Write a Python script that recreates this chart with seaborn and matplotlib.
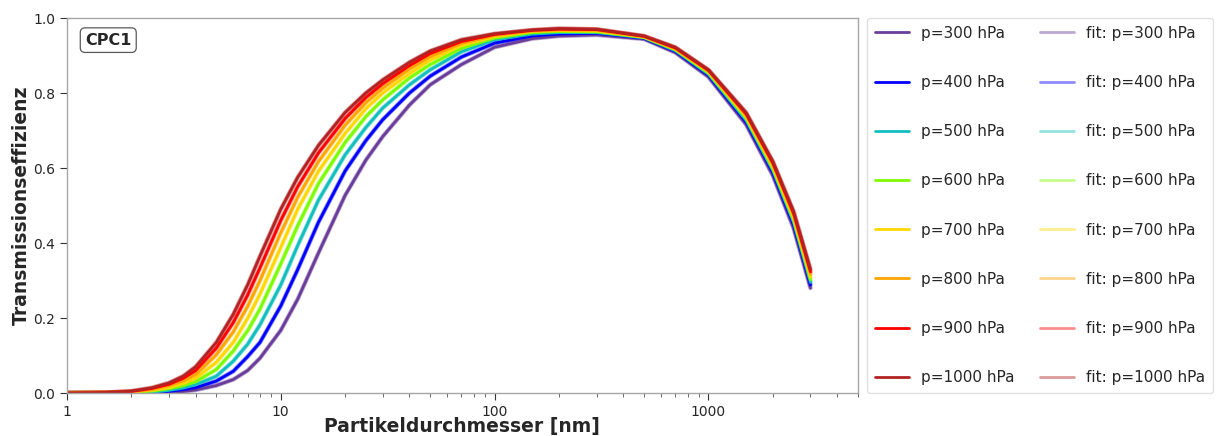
import numpy as np
import pandas as pd
import matplotlib
matplotlib.use("Agg")
import matplotlib.pyplot as plt
import seaborn as sns
from matplotlib.ticker import FuncFormatter, LogLocator

# Particle diameter grid [nm]
diameter = [1, 1.5, 2, 2.5, 3, 3.5, 4, 5, 6, 7, 8, 10, 12, 15, 20, 25, 30, 40, 50,
            70, 100, 150, 200, 300, 500, 700, 1000, 1500, 2000, 2500, 3000]

pressures = [300, 400, 500, 600, 700, 800, 900, 1000]
colors = ["#6a3d9a", "#0000ff", "#12bfbf", "#7cfc00", "#ffd700", "#ffa500", "#ff0000", "#b22222"]

eff_300 = [0.000, 0.000, 0.000, 0.001, 0.002, 0.004, 0.008, 0.020, 0.036, 0.060, 0.093, 0.167,
           0.250, 0.373, 0.527, 0.621, 0.684, 0.768, 0.822, 0.876, 0.922, 0.945, 0.952,
           0.955, 0.944, 0.908, 0.843, 0.716, 0.580, 0.440, 0.280]
eff_400 = [0.000, 0.000, 0.001, 0.001, 0.004, 0.009, 0.014, 0.032, 0.058, 0.097, 0.135, 0.232,
           0.329, 0.455, 0.592, 0.673, 0.729, 0.800, 0.845, 0.896, 0.933, 0.952, 0.957,
           0.959, 0.946, 0.911, 0.847, 0.722, 0.587, 0.448, 0.288]
eff_500 = [0.000, 0.000, 0.001, 0.002, 0.007, 0.013, 0.022, 0.045, 0.085, 0.130, 0.182, 0.288,
           0.393, 0.514, 0.635, 0.708, 0.760, 0.822, 0.862, 0.910, 0.942, 0.957, 0.961,
           0.961, 0.947, 0.913, 0.850, 0.727, 0.593, 0.455, 0.295]
eff_600 = [0.000, 0.000, 0.001, 0.005, 0.011, 0.019, 0.030, 0.063, 0.112, 0.166, 0.224, 0.344,
           0.446, 0.558, 0.668, 0.737, 0.782, 0.840, 0.876, 0.919, 0.946, 0.961, 0.964,
           0.963, 0.948, 0.915, 0.853, 0.732, 0.598, 0.461, 0.302]
eff_700 = [0.000, 0.001, 0.003, 0.007, 0.014, 0.025, 0.039, 0.082, 0.135, 0.199, 0.264, 0.388,
           0.490, 0.591, 0.692, 0.758, 0.800, 0.852, 0.888, 0.926, 0.950, 0.964, 0.966,
           0.965, 0.949, 0.917, 0.856, 0.736, 0.603, 0.467, 0.309]
eff_800 = [0.000, 0.001, 0.003, 0.009, 0.019, 0.032, 0.049, 0.102, 0.163, 0.231, 0.300, 0.427,
           0.522, 0.617, 0.714, 0.774, 0.813, 0.864, 0.897, 0.932, 0.953, 0.965, 0.968,
           0.967, 0.950, 0.918, 0.858, 0.740, 0.608, 0.473, 0.316]
eff_900 = [0.000, 0.001, 0.004, 0.012, 0.023, 0.039, 0.060, 0.120, 0.188, 0.261, 0.334, 0.460,
           0.550, 0.640, 0.732, 0.788, 0.825, 0.873, 0.905, 0.937, 0.956, 0.967, 0.970,
           0.969, 0.951, 0.920, 0.860, 0.744, 0.613, 0.479, 0.323]
eff_1000 = [0.000, 0.001, 0.005, 0.014, 0.027, 0.045, 0.070, 0.135, 0.210, 0.288, 0.365, 0.490,
            0.575, 0.660, 0.748, 0.800, 0.835, 0.882, 0.912, 0.942, 0.958, 0.968, 0.972,
            0.970, 0.952, 0.922, 0.862, 0.748, 0.618, 0.485, 0.330]

measured = [eff_300, eff_400, eff_500, eff_600, eff_700, eff_800, eff_900, eff_1000]
fitted = [eff_300, eff_400, eff_500, eff_600, eff_700, eff_800, eff_900, eff_1000]

sns.set_style("ticks")
plt.rcParams['font.family'] = ['DejaVu Sans']

fig = plt.figure(figsize=(12.16, 4.36), dpi=100)
ax = fig.add_axes([0.055, 0.0986, 0.6505, 0.8601])

# fits (drawn first, wider and translucent)
for p, c, y in zip(pressures, colors, fitted):
    sns.lineplot(x=diameter, y=y, ax=ax, color=c, lw=3.2, alpha=0.45,
                 label=f"fit: p={p} hPa", legend=False)
for p, c, y in zip(pressures, colors, measured):
    sns.lineplot(x=diameter, y=y, ax=ax, color=c, lw=2.0,
                 label=f"p={p} hPa", legend=False)

ax.set_xscale("log")
ax.set_xlim(1, 5000)
ax.set_ylim(0, 1.0)
ax.set_yticks([0.0, 0.2, 0.4, 0.6, 0.8, 1.0])
ax.xaxis.set_major_formatter(FuncFormatter(lambda v, pos: f"{int(round(v))}"))
ax.xaxis.set_minor_locator(LogLocator(base=10, subs=np.arange(2, 10)))
ax.tick_params(axis="both", which="major", labelsize=10, length=5, color="0.2", labelcolor="0.15")
ax.tick_params(axis="x", which="minor", length=3, color="0.3")
for s in ax.spines.values():
    s.set_color("0.65")
    s.set_linewidth(1.0)

ax.set_xlabel("Partikeldurchmesser [nm]", fontsize=13.5, fontweight="bold", labelpad=-1.5)
ax.set_ylabel("Transmissionseffizienz", fontsize=13.5, fontweight="bold", labelpad=1.5)

ax.text(0.023, 0.941, "CPC1", transform=ax.transAxes, ha="left", va="center",
        fontsize=11.5, fontweight="bold",
        bbox=dict(boxstyle="round,pad=0.3", fc="white", ec="0.35", lw=0.9))

handles, labels = ax.get_legend_handles_labels()
n = len(pressures)
order = list(range(n, 2 * n)) + list(range(0, n))
leg = ax.legend([handles[i] for i in order], [labels[i] for i in order],
                loc="upper left", bbox_to_anchor=(1.012, 1.0), ncol=2,
                fontsize=11, labelspacing=2.24, columnspacing=1.7,
                handlelength=2.2, handletextpad=0.8, borderaxespad=0.0,
                frameon=True, borderpad=0.5)
leg.get_frame().set_edgecolor("0.85")
for lh in leg.get_lines():
    lh.set_linewidth(2.0)

fig.savefig("out.png", dpi=100)
